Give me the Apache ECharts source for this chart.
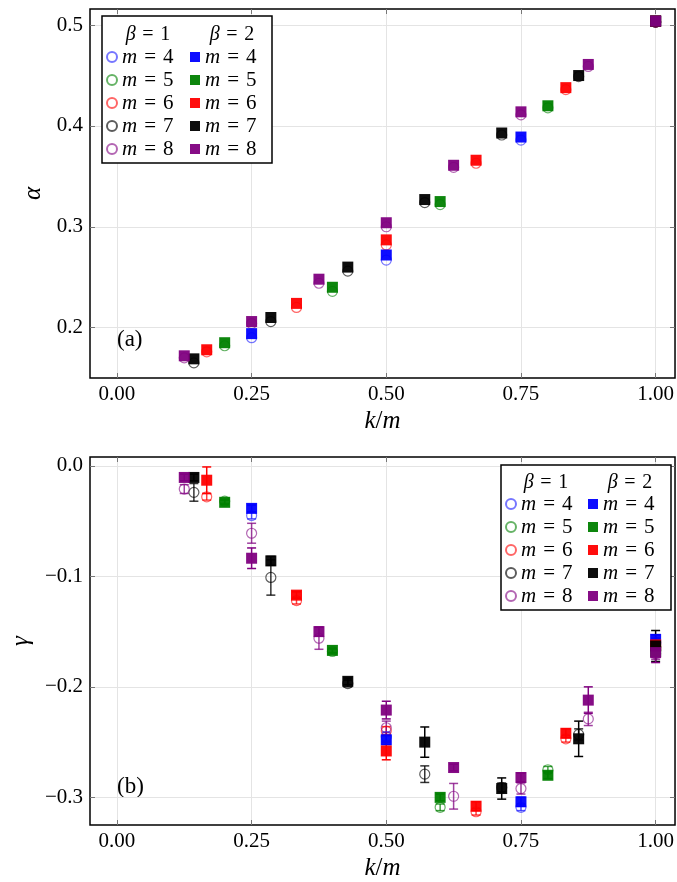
<!DOCTYPE html>
<html>
<head>
<meta charset="utf-8">
<script src="https://cdn.jsdelivr.net/npm/echarts@6/dist/echarts.min.js"></script>
<style>
  html, body { margin: 0; background: #fff; }
  #main { width: 677px; height: 882px; }
</style>
</head>
<body>
<div id="main"></div>
<script>
const mValues = [4, 5, 6, 7, 8];
const xTicks = [0, 0.25, 0.5, 0.75, 1];
const alphaTicks = [0.2, 0.3, 0.4, 0.5];
const gammaTicks = [-0.3, -0.2, -0.1, 0];

// alpha vs k/m, index = k-1 (k = 1..m)
const alpha1_m4 = [0.190, 0.267, 0.386, 0.503];
const alpha1_m5 = [0.182, 0.236, 0.322, 0.418, 0.503];
const alpha1_m6 = [0.176, 0.220, 0.282, 0.363, 0.436, 0.503];
const alpha1_m7 = [0.165, 0.206, 0.256, 0.324, 0.391, 0.449, 0.503];
const alpha1_m8 = [0.170, 0.204, 0.244, 0.300, 0.359, 0.411, 0.459, 0.503];
const alpha2_m4 = [0.194, 0.272, 0.389, 0.504];
const alpha2_m5 = [0.185, 0.240, 0.325, 0.420, 0.504];
const alpha2_m6 = [0.178, 0.224, 0.287, 0.366, 0.438, 0.504];
const alpha2_m7 = [0.169, 0.210, 0.260, 0.327, 0.393, 0.450, 0.504];
const alpha2_m8 = [0.172, 0.206, 0.248, 0.304, 0.361, 0.414, 0.461, 0.504];

// gamma vs k/m, with error bars
const gamma1_m4 = [-0.045, -0.245, -0.309, -0.160];
const gamma1_m5 = [-0.032, -0.168, -0.309, -0.275, -0.167];
const gamma1_m6 = [-0.028, -0.122, -0.240, -0.313, -0.247, -0.163];
const gamma1_m7 = [-0.024, -0.101, -0.197, -0.279, -0.291, -0.243, -0.164];
const gamma1_m8 = [-0.021, -0.061, -0.156, -0.237, -0.299, -0.292, -0.229, -0.170];
const gamma2_m4 = [-0.0385, -0.248, -0.304, -0.157];
const gamma2_m5 = [-0.033, -0.167, -0.300, -0.280, -0.168];
const gamma2_m6 = [-0.013, -0.117, -0.258, -0.308, -0.242, -0.162];
const gamma2_m7 = [-0.0105, -0.086, -0.195, -0.250, -0.292, -0.247, -0.163];
const gamma2_m8 = [-0.0105, -0.0836, -0.150, -0.221, -0.273, -0.282, -0.212, -0.169];

const gammaErr1_m4 = [0.003, 0.004, 0.003, 0.004];
const gammaErr1_m5 = [0.002, 0.002, 0.003, 0.003, 0.004];
const gammaErr1_m6 = [0.003, 0.003, 0.004, 0.003, 0.003, 0.004];
const gammaErr1_m7 = [0.008, 0.016, 0.003, 0.0075, 0.004, 0.005, 0.004];
const gammaErr1_m8 = [0.004, 0.009, 0.010, 0.006, 0.0116, 0.005, 0.006, 0.005];
const gammaErr2_m4 = [0.003, 0.004, 0.004, 0.004];
const gammaErr2_m5 = [0.002, 0.002, 0.003, 0.003, 0.004];
const gammaErr2_m6 = [0.012, 0.003, 0.008, 0.004, 0.004, 0.004];
const gammaErr2_m7 = [0.003, 0.004, 0.003, 0.0137, 0.0096, 0.016, 0.014];
const gammaErr2_m8 = [0.003, 0.0093, 0.004, 0.008, 0.003, 0.004, 0.012, 0.009];

const alpha1 = [alpha1_m4, alpha1_m5, alpha1_m6, alpha1_m7, alpha1_m8];
const alpha2 = [alpha2_m4, alpha2_m5, alpha2_m6, alpha2_m7, alpha2_m8];
const gamma1 = [gamma1_m4, gamma1_m5, gamma1_m6, gamma1_m7, gamma1_m8];
const gamma2 = [gamma2_m4, gamma2_m5, gamma2_m6, gamma2_m7, gamma2_m8];
const gammaErr1 = [gammaErr1_m4, gammaErr1_m5, gammaErr1_m6, gammaErr1_m7, gammaErr1_m8];
const gammaErr2 = [gammaErr2_m4, gammaErr2_m5, gammaErr2_m6, gammaErr2_m7, gammaErr2_m8];

const colors = ["#0000ff", "#008000", "#ff0000", "#000000", "#800080"];
const lightColors = ["rgba(40,40,255,0.8)", "rgba(0,128,0,0.75)", "rgba(255,0,0,0.75)", "rgba(0,0,0,0.8)", "rgba(128,0,128,0.75)"];

const FONT = "'Liberation Serif', 'DejaVu Serif', serif";

const chart = echarts.init(document.getElementById("main"), null, { renderer: "canvas" });

function errBar(params, api) {
  const x = api.value(0), y = api.value(1), e = api.value(2);
  const top = api.coord([x, y + e]);
  const bot = api.coord([x, y - e]);
  const c = api.visual("color");
  const w = 4.5;
  const st = { stroke: c, lineWidth: 1.5 };
  return {
    type: "group",
    children: [
      { type: "line", shape: { x1: top[0], y1: top[1], x2: bot[0], y2: bot[1] }, style: st },
      { type: "line", shape: { x1: top[0] - w, y1: top[1], x2: top[0] + w, y2: top[1] }, style: st },
      { type: "line", shape: { x1: bot[0] - w, y1: bot[1], x2: bot[0] + w, y2: bot[1] }, style: st },
    ],
  };
}

const series = [];
const legendNames = { a1: [], a2: [], g1: [], g2: [] };

function addSeries(panel, beta, values, errs) {
  const key = panel + beta;
  mValues.forEach((m, i) => {
    const name = key + "-" + m;
    legendNames[key].push(name);
    const axisIdx = panel === "a" ? 0 : 2;
    const pts = values[i].map((v, k) => [(k + 1) / m, v]);
    const color = beta === 1 ? lightColors[i] : colors[i];
    if (errs) {
      series.push({
        type: "custom",
        name: "err-" + name,
        xAxisIndex: axisIdx,
        yAxisIndex: axisIdx,
        renderItem: errBar,
        itemStyle: { color: color },
        encode: { x: 0, y: 1 },
        data: values[i].map((v, k) => [(k + 1) / m, v, errs[i][k]]),
        silent: true,
      });
    }
    series.push({
      type: "scatter",
      name: name,
      xAxisIndex: axisIdx,
      yAxisIndex: axisIdx,
      data: pts,
      symbol: beta === 1 ? "circle" : "rect",
      symbolSize: beta === 1 ? 10 : 11,
      itemStyle: beta === 1
        ? { color: "rgba(0,0,0,0)", borderColor: color, borderWidth: 1.2 }
        : { color: color, opacity: 0.95 },
      emphasis: { disabled: true },
    });
  });
}

addSeries("a", 1, alpha1, null);
addSeries("a", 2, alpha2, null);
addSeries("g", 1, gamma1, gammaErr1);
addSeries("g", 2, gamma2, gammaErr2);

const labelStyle = { fontFamily: FONT, fontSize: 21, color: "#000" };
const minus = (s) => s.replace("-", "\u2212");
const tickStyle = (vals) => ({ show: true, inside: true, length: 5, lineStyle: { color: "#777" }, customValues: vals });

function xAxes(gridIndex) {
  return [
    {
      type: "value", gridIndex, min: -0.05, max: 1.036, position: "bottom",
      axisLine: { show: false, onZero: false },
      axisTick: tickStyle(xTicks),
      axisLabel: { ...labelStyle, margin: 6, customValues: xTicks, formatter: (v) => v.toFixed(2) },
      splitLine: { show: true, lineStyle: { color: "#e4e4e4", width: 1 } },
      name: "{i|k}/{i|m}", nameLocation: "middle", nameGap: 31,
      nameTextStyle: { fontFamily: FONT, fontSize: 25, color: "#000", rich: { i: { fontFamily: FONT, fontSize: 25, fontStyle: "italic" } } },
    },
    {
      type: "value", gridIndex, min: -0.05, max: 1.036, position: "top",
      axisLine: { show: false, onZero: false },
      axisTick: tickStyle(xTicks),
      axisLabel: { show: false },
      splitLine: { show: false },
    },
  ];
}

function yAxes(gridIndex, min, max, ticks, name, gap) {
  return [
    {
      type: "value", gridIndex, min, max, position: "left",
      axisLine: { show: false, onZero: false },
      axisTick: tickStyle(ticks),
      axisLabel: { ...labelStyle, margin: 7, customValues: ticks, formatter: (v) => minus(v.toFixed(1)) },
      splitLine: { show: true, lineStyle: { color: "#e4e4e4", width: 1 } },
      name, nameLocation: "middle", nameGap: gap, nameRotate: 90,
      nameTextStyle: { fontFamily: FONT, fontSize: 25, fontStyle: "italic", color: "#000" },
    },
    {
      type: "value", gridIndex, min, max, position: "right",
      axisLine: { show: false, onZero: false },
      axisTick: tickStyle(ticks),
      axisLabel: { show: false },
      splitLine: { show: false },
    },
  ];
}

const legendText = {
  fontFamily: FONT, fontSize: 21, color: "#000", lineHeight: 22,
  rich: { i: { fontFamily: FONT, fontSize: 21, fontStyle: "italic", lineHeight: 22 } },
};
function legend(names, left, top) {
  return {
    data: names, left, top, orient: "vertical", z: 6,
    itemWidth: 10, itemHeight: 10, itemGap: 1, padding: 0,
    selectedMode: false,
    textStyle: legendText,
    formatter: (n) => "{i|m}\u2004=\u2004" + n.split("-")[1],
  };
}

function header(text, x, y) {
  return {
    type: "text", x, y, z: 7,
    style: {
      text: "{i|\u03b2}\u2004=\u2004" + text, fontFamily: FONT, fontSize: 20, fill: "#000",
      align: "center", verticalAlign: "middle",
      rich: { i: { fontFamily: FONT, fontSize: 20, fontStyle: "italic" } },
    },
  };
}

const option = {
  animation: false,
  backgroundColor: "#fff",
  grid: [
    { left: 90, top: 9, width: 586, height: 369, show: true, borderColor: "#000", borderWidth: 1.5, backgroundColor: "transparent" },
    { left: 90, top: 457, width: 586, height: 369, show: true, borderColor: "#000", borderWidth: 1.5, backgroundColor: "transparent" },
  ],
  xAxis: [...xAxes(0), ...xAxes(1)],
  yAxis: [...yAxes(0, 0.15, 0.516, alphaTicks, "\u03b1", 37), ...yAxes(1, -0.325, 0.008, gammaTicks, "\u03b3", 56)],
  legend: [
    legend(legendNames.a1, 106, 46),
    legend(legendNames.a2, 190, 46),
    legend(legendNames.g1, 505, 493),
    legend(legendNames.g2, 588, 493),
  ],
  graphic: [
    { type: "rect", z: 3, shape: { x: 102, y: 16, width: 170, height: 147 }, style: { fill: "#fff", stroke: "#000", lineWidth: 1.5 } },
    { type: "rect", z: 3, shape: { x: 501, y: 465, width: 170, height: 145 }, style: { fill: "#fff", stroke: "#000", lineWidth: 1.5 } },
    header("1", 148, 35),
    header("2", 232, 35),
    header("1", 546, 483),
    header("2", 630, 483),
    { type: "text", x: 117, y: 340, style: { text: "(a)", fontFamily: FONT, fontSize: 23, fill: "#000", verticalAlign: "middle" } },
    { type: "text", x: 117, y: 787, style: { text: "(b)", fontFamily: FONT, fontSize: 23, fill: "#000", verticalAlign: "middle" } },
  ],
  series,
};

chart.setOption(option);
</script>
</body>
</html>
